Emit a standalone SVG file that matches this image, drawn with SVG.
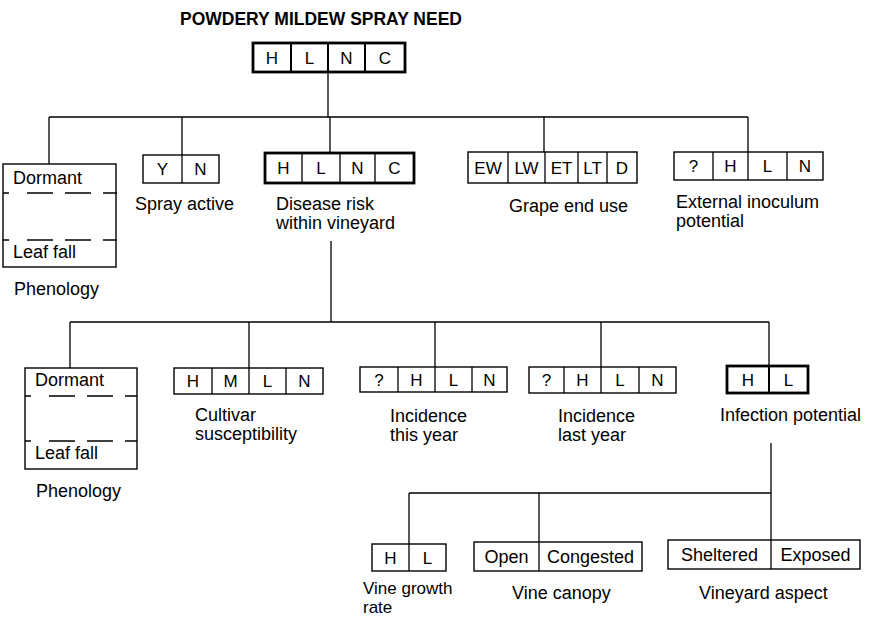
<svg xmlns="http://www.w3.org/2000/svg" width="869" height="617" viewBox="0 0 869 617">
<style>
  text { font-family: "Liberation Sans", Arial, sans-serif; fill: #000; }
  .title { font-size: 17.5px; font-weight: bold; }
  .lbl { font-size: 18px; }
  .sm { font-size: 17px; }
  .cell { font-size: 17px; text-anchor: middle; }
  .word { font-size: 18px; text-anchor: middle; }
  .box { fill: #fff; stroke: #000; stroke-width: 1.4; }
  .thick { stroke-width: 2.8; }
  .dv { stroke: #000; stroke-width: 1.3; }
  .dvt { stroke: #000; stroke-width: 2; }
  .dash { stroke: #000; stroke-width: 1.3; stroke-dasharray: 6 18 26 12 26 12 14; }
  .conn { fill: none; stroke: #000; stroke-width: 1.3; }
</style>

<text class="title" x="180" y="25">POWDERY MILDEW SPRAY NEED</text>

<g id="connectors">
  <path class="conn" d="M328 72 V117 M49 117 H748 M49 117 V164 M182 117 V155 M330 117 V153 M544 117 V152 M748 117 V152"/>
  <path class="conn" d="M331 241 V322 M70 322 H769 M70 322 V368 M249 322 V368 M435 322 V367 M601 322 V367 M769 322 V366"/>
  <path class="conn" d="M771 443 V493 M409 493 H771 M409 493 V544 M539 493 V542 M771 493 V540"/>
</g>

<g id="spray-need">
  <rect class="box thick" x="253" y="43" width="152" height="29"/>
  <path class="dvt" d="M291 43 V72 M328 43 V72 M365 43 V72"/>
  <text class="cell" x="272" y="64">H</text>
  <text class="cell" x="309.5" y="64">L</text>
  <text class="cell" x="346.5" y="64">N</text>
  <text class="cell" x="385" y="64">C</text>
</g>

<g id="phenology-1">
  <rect class="box" x="3" y="164" width="113" height="103"/>
  <line class="dash" x1="3" y1="193" x2="117" y2="193"/>
  <line class="dash" x1="3" y1="240" x2="117" y2="240"/>
  <text class="lbl" x="13" y="184">Dormant</text>
  <text class="lbl" x="13" y="258">Leaf fall</text>
  <text class="lbl" x="14" y="295">Phenology</text>
</g>

<g id="spray-active">
  <rect class="box" x="143" y="155" width="76" height="28"/>
  <path class="dv" d="M182 155 V183"/>
  <text class="cell" x="162.5" y="175">Y</text>
  <text class="cell" x="200.5" y="175">N</text>
  <text class="lbl" x="135" y="210">Spray active</text>
</g>

<g id="disease-risk">
  <rect class="box thick" x="265" y="153" width="149" height="30"/>
  <path class="dv" d="M302 153 V183 M340 153 V183 M375 153 V183"/>
  <text class="cell" x="283.5" y="174">H</text>
  <text class="cell" x="321" y="174">L</text>
  <text class="cell" x="357.5" y="174">N</text>
  <text class="cell" x="394.5" y="174">C</text>
  <text class="lbl" x="276" y="210">Disease risk</text>
  <text class="lbl" x="276" y="229">within vineyard</text>
</g>

<g id="grape-end-use">
  <rect class="box" x="468" y="152" width="169" height="31"/>
  <path class="dv" d="M508 152 V183 M545 152 V183 M578 152 V183 M607 152 V183"/>
  <text class="cell" x="488" y="174">EW</text>
  <text class="cell" x="526.5" y="174">LW</text>
  <text class="cell" x="561.5" y="174">ET</text>
  <text class="cell" x="592.5" y="174">LT</text>
  <text class="cell" x="622" y="174">D</text>
  <text class="lbl" x="509" y="212">Grape end use</text>
</g>

<g id="external-inoculum">
  <rect class="box" x="674" y="152" width="149" height="28"/>
  <path class="dv" d="M713 152 V180 M748 152 V180 M787 152 V180"/>
  <text class="cell" x="693.5" y="172">?</text>
  <text class="cell" x="730.5" y="172">H</text>
  <text class="cell" x="767.5" y="172">L</text>
  <text class="cell" x="805" y="172">N</text>
  <text class="lbl" x="676" y="208">External inoculum</text>
  <text class="lbl" x="676" y="227">potential</text>
</g>

<g id="phenology-2">
  <rect class="box" x="25" y="368" width="112" height="101"/>
  <line class="dash" x1="25" y1="396" x2="137" y2="396"/>
  <line class="dash" x1="25" y1="441" x2="137" y2="441"/>
  <text class="lbl" x="35" y="386">Dormant</text>
  <text class="lbl" x="35" y="459">Leaf fall</text>
  <text class="lbl" x="36" y="497">Phenology</text>
</g>

<g id="cultivar">
  <rect class="box" x="174" y="368" width="149" height="26"/>
  <path class="dv" d="M212 368 V394 M249 368 V394 M286 368 V394"/>
  <text class="cell" x="193" y="387">H</text>
  <text class="cell" x="230.5" y="387">M</text>
  <text class="cell" x="267.5" y="387">L</text>
  <text class="cell" x="304.5" y="387">N</text>
  <text class="lbl" x="195" y="421">Cultivar</text>
  <text class="lbl" x="195" y="440">susceptibility</text>
</g>

<g id="incidence-this-year">
  <rect class="box" x="360" y="367" width="147" height="25"/>
  <path class="dv" d="M398 367 V392 M435 367 V392 M472 367 V392"/>
  <text class="cell" x="379" y="386">?</text>
  <text class="cell" x="416.5" y="386">H</text>
  <text class="cell" x="453.5" y="386">L</text>
  <text class="cell" x="489.5" y="386">N</text>
  <text class="lbl" x="390" y="422">Incidence</text>
  <text class="lbl" x="390" y="441">this year</text>
</g>

<g id="incidence-last-year">
  <rect class="box" x="529" y="367" width="147" height="26"/>
  <path class="dv" d="M564 367 V393 M601 367 V393 M639 367 V393"/>
  <text class="cell" x="546.5" y="386">?</text>
  <text class="cell" x="582.5" y="386">H</text>
  <text class="cell" x="620" y="386">L</text>
  <text class="cell" x="657.5" y="386">N</text>
  <text class="lbl" x="558" y="422">Incidence</text>
  <text class="lbl" x="558" y="441">last year</text>
</g>

<g id="infection-potential">
  <rect class="box thick" x="727" y="366" width="81" height="27"/>
  <path class="dvt" d="M769 366 V393"/>
  <text class="cell" x="748" y="386">H</text>
  <text class="cell" x="788.5" y="386">L</text>
  <text class="lbl" x="720" y="421">Infection potential</text>
</g>

<g id="vine-growth">
  <rect class="box" x="372" y="544" width="74" height="27"/>
  <path class="dv" d="M409 544 V571"/>
  <text class="cell" x="390.5" y="564">H</text>
  <text class="cell" x="427.5" y="564">L</text>
  <text class="sm" x="363" y="594">Vine growth</text>
  <text class="sm" x="363" y="613">rate</text>
</g>

<g id="vine-canopy">
  <rect class="box" x="474" y="542" width="168" height="29"/>
  <path class="dv" d="M539 542 V571"/>
  <text class="word" x="506.5" y="563">Open</text>
  <text class="word" x="590.5" y="563">Congested</text>
  <text class="lbl" x="512" y="599">Vine canopy</text>
</g>

<g id="vineyard-aspect">
  <rect class="box" x="668" y="540" width="192" height="29"/>
  <path class="dv" d="M771 540 V569"/>
  <text class="word" x="719.5" y="561">Sheltered</text>
  <text class="word" x="815.5" y="561">Exposed</text>
  <text class="lbl" x="699" y="599">Vineyard aspect</text>
</g>
</svg>
